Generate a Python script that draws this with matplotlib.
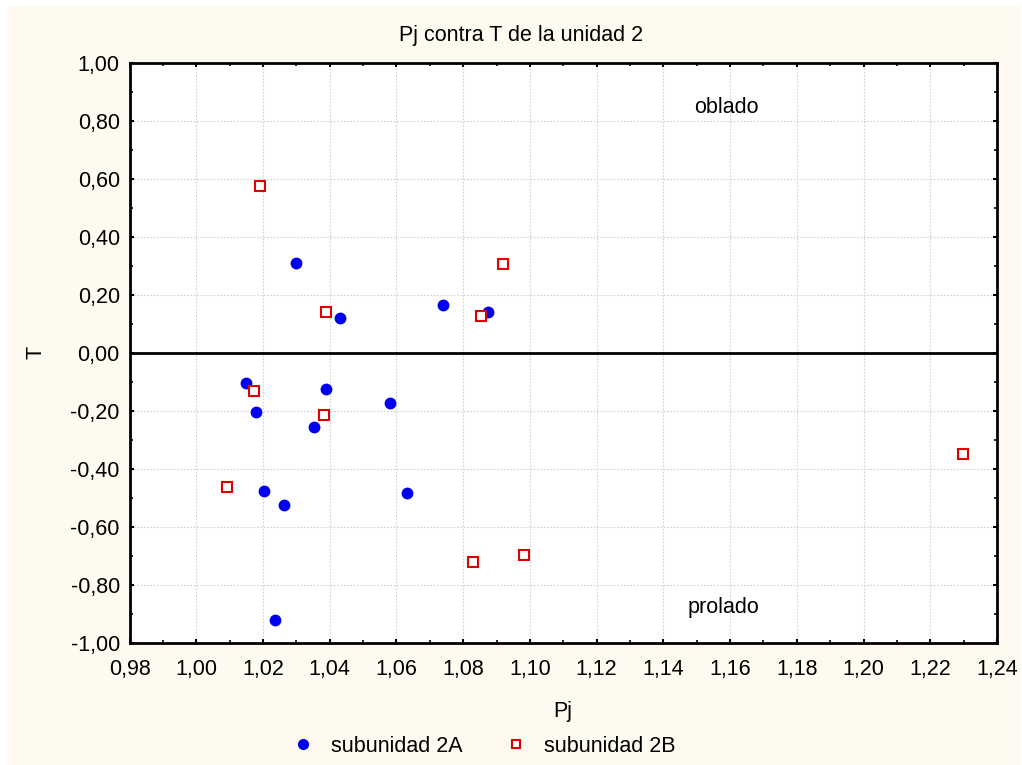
import matplotlib
matplotlib.use("Agg")
import matplotlib.pyplot as plt
from matplotlib.ticker import FuncFormatter, MultipleLocator
from matplotlib.patches import Rectangle
from matplotlib.lines import Line2D

plt.rcParams['font.family'] = ['Liberation Sans', 'DejaVu Sans']

title = "Pj contra T de la unidad 2"
xlabel = "Pj"
ylabel = "T"
series_names = ["subunidad 2A", "subunidad 2B"]

pj_2a = [1.030, 1.0432, 1.074, 1.0873, 1.0149, 1.0390, 1.0180, 1.0582, 1.0354,
         1.0204, 1.0264, 1.0631, 1.0235]
t_2a = [0.310, 0.118, 0.166, 0.139, -0.103, -0.124, -0.206, -0.172, -0.256,
        -0.477, -0.524, -0.484, -0.920]

pj_2b = [1.0191, 1.039, 1.092, 1.0853, 1.0174, 1.0384, 1.0091, 1.083, 1.0981, 1.2299]
t_2b = [0.575, 0.139, 0.306, 0.126, -0.132, -0.2135, -0.462, -0.720, -0.696, -0.3506]

FS = 15.5
W, H = 1022, 765
fig = plt.figure(figsize=(W / 100, H / 100), dpi=100)
fig.patch.set_facecolor('white')
fig.patches.append(Rectangle((8 / W, 0), (1021 - 8) / W, (H - 6) / H,
                             transform=fig.transFigure, facecolor='#FEFAEF',
                             edgecolor='none', zorder=-10))

left, right, top, bottom = 129.5, 997.0, 62.7, 642.7
ax = fig.add_axes([left / W, (H - bottom) / H, (right - left) / W, (bottom - top) / H])
ax.set_facecolor('white')

ax.set_xlim(0.98, 1.24)
ax.set_ylim(-1.0, 1.0)
ax.xaxis.set_major_locator(MultipleLocator(0.02))
ax.xaxis.set_minor_locator(MultipleLocator(0.01))
ax.yaxis.set_major_locator(MultipleLocator(0.2))
ax.yaxis.set_minor_locator(MultipleLocator(0.1))
fmt = FuncFormatter(lambda v, p: f"{v:.2f}".replace('.', ',').replace('-0,00', '0,00'))
ax.xaxis.set_major_formatter(fmt)
ax.yaxis.set_major_formatter(fmt)

ax.grid(True, which='major', color='#d0d0d0', linestyle=(0, (1.5, 1.5)), linewidth=0.8)
ax.set_axisbelow(True)
for s in ax.spines.values():
    s.set_linewidth(2.0)
    s.set_color('black')
ax.tick_params(which='both', direction='in', top=True, right=True,
               labelsize=FS, color='black')
ax.tick_params(axis='x', which='major', pad=12)
ax.tick_params(axis='y', which='major', pad=7)
ax.tick_params(which='major', length=3, width=1.5)
ax.tick_params(which='minor', length=2, width=1.2)

ax.axhline(0, color='black', linewidth=2.0, zorder=2)

ax.plot(pj_2a, t_2a, linestyle='none', marker='o', markersize=7.5,
        color='#0000EE', markeredgecolor='#0000EE', zorder=3)
ax.plot(pj_2b, t_2b, linestyle='none', marker='s', markersize=6.5,
        markerfacecolor='white', markeredgecolor='#E00000', markeredgewidth=1.5, zorder=4)

ax.text(1.159, 0.847, "oblado", fontsize=FS, ha='center', va='center')
ax.text(1.158, -0.879, "prolado", fontsize=FS, ha='center', va='center')

fig.text(521 / W, 1 - 36 / H, title, fontsize=FS, ha='center', va='center')
fig.text(563 / W, 1 - 711 / H, xlabel, fontsize=FS, ha='center', va='center')
fig.text(36 / W, 1 - 352 / H, ylabel, fontsize=FS, ha='center', va='center', rotation=90)

handles = [
    Line2D([], [], linestyle='none', marker='o', markersize=7, color='#0000EE'),
    Line2D([], [], linestyle='none', marker='s', markersize=6, markerfacecolor='white',
           markeredgecolor='#E00000', markeredgewidth=1.5),
]
leg = fig.legend(handles, series_names, loc='center', bbox_to_anchor=(484 / W, 1 - 746 / H),
                 ncol=2, frameon=False, fontsize=FS, handletextpad=0.8,
                 columnspacing=2.0, handlelength=1.0)

fig.savefig("out.png", dpi=100)
